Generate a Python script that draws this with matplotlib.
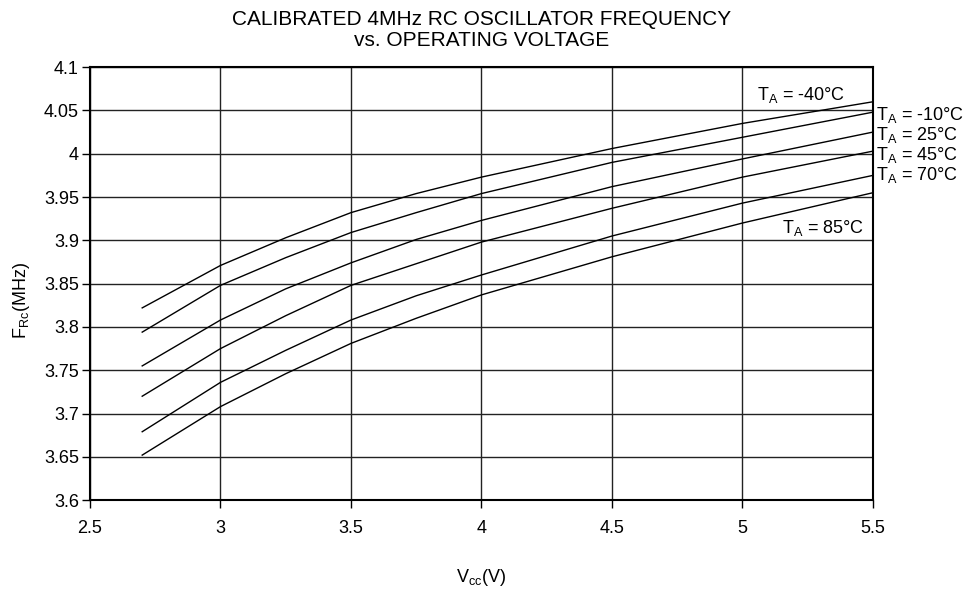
import matplotlib
matplotlib.use("Agg")
from matplotlib import pyplot as plt

plt.rcParams['font.family'] = ['Liberation Sans', 'DejaVu Sans']
plt.rcParams['mathtext.fontset'] = 'custom'
plt.rcParams['mathtext.rm'] = 'Liberation Sans'
plt.rcParams['mathtext.it'] = 'Liberation Sans'

# supply voltage (V)
vcc = [2.7, 3.0, 3.25, 3.5, 3.75, 4.0, 4.5, 5.0, 5.5]

# frequency (MHz) per temperature
f_m40 = [3.822, 3.871, 3.903, 3.932, 3.954, 3.973, 4.006, 4.035, 4.060]
f_m10 = [3.794, 3.848, 3.880, 3.909, 3.932, 3.954, 3.990, 4.019, 4.048]
f_25 = [3.755, 3.808, 3.844, 3.874, 3.901, 3.923, 3.962, 3.994, 4.025]
f_45 = [3.720, 3.775, 3.813, 3.848, 3.873, 3.898, 3.937, 3.973, 4.003]
f_70 = [3.679, 3.736, 3.773, 3.808, 3.836, 3.860, 3.905, 3.943, 3.975]
f_85 = [3.652, 3.708, 3.746, 3.781, 3.810, 3.837, 3.881, 3.920, 3.955]

curves = [f_m40, f_m10, f_25, f_45, f_70, f_85]
temps = ["-40", "-10", "25", "45", "70", "85"]

fig = plt.figure(figsize=(9.74, 5.94), dpi=100)
ax = fig.add_axes([0.0924, 0.158, 0.8039, 0.729])

for f in curves:
    ax.plot(vcc, f, color='black', lw=1.0)

ax.set_xlim(2.5, 5.5)
ax.set_ylim(3.6, 4.1)
ax.set_xticks([2.5, 3, 3.5, 4, 4.5, 5, 5.5])
ax.set_xticklabels(['2.5', '3', '3.5', '4', '4.5', '5', '5.5'])
ax.set_yticks([3.6, 3.65, 3.7, 3.75, 3.8, 3.85, 3.9, 3.95, 4, 4.05, 4.1])
ax.set_yticklabels(['3.6', '3.65', '3.7', '3.75', '3.8', '3.85', '3.9', '3.95', '4', '4.05', '4.1'])
ax.grid(True, color='#222222', lw=1.0)
ax.tick_params(axis='both', labelsize=13, length=6, width=1, color='black')
ax.tick_params(axis='x', pad=8)
ax.tick_params(axis='y', pad=2)
for s in ax.spines.values():
    s.set_linewidth(1.5)

# temperature labels
def tlabel(t):
    return r"T$_{\mathrm{A}}$ = " + t + "°C"

ax.text(5.056, 4.068, tlabel(temps[0]), fontsize=13, va='center', ha='left')
ax.text(5.51, 4.045, tlabel(temps[1]), fontsize=13, va='center', ha='left')
ax.text(5.51, 4.0215, tlabel(temps[2]), fontsize=13, va='center', ha='left')
ax.text(5.51, 3.998, tlabel(temps[3]), fontsize=13, va='center', ha='left')
ax.text(5.51, 3.975, tlabel(temps[4]), fontsize=13, va='center', ha='left')
ax.text(5.151, 3.914, tlabel(temps[5]), fontsize=13, va='center', ha='left')

fig.text(0.494, 0.983, "CALIBRATED 4MHz RC OSCILLATOR FREQUENCY\nvs. OPERATING VOLTAGE",
         fontsize=15, linespacing=1.1, ha='center', va='top')
ax.set_xlabel(r"V$_{\mathrm{cc}}$(V)", fontsize=13)
ax.set_ylabel(r"F$_{\mathrm{Rc}}$(MHz)", fontsize=13)
ax.xaxis.set_label_coords(0.5, -0.155)
ax.yaxis.set_label_coords(-0.074, 0.462)

fig.savefig("out.png", dpi=100)
